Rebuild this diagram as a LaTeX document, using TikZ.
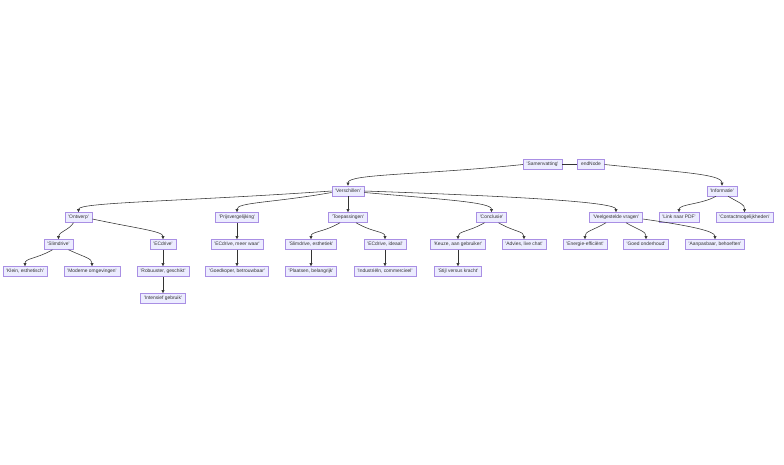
\documentclass[tikz,border=0pt]{standalone}
\usepackage{fontspec}
\setmainfont{Liberation Sans}
\usetikzlibrary{arrows.meta,calc}
\definecolor{nodefill}{HTML}{ECECFF}
\definecolor{nodeline}{HTML}{9370DB}
\definecolor{edgecol}{HTML}{333333}
\newcommand{\qq}[1]{\textquotesingle#1\textquotesingle}
\begin{document}
\begin{tikzpicture}[x=1pt,y=1pt,
  box/.style={draw=nodeline!75!nodefill, fill=nodefill, line width=0.5pt, inner xsep=3.4pt, inner ysep=2.6pt,
    text height=3.7pt, text depth=1.1pt, font=\fontsize{4.9}{5.5}\selectfont, text=edgecol},
  edge/.style={draw=edgecol, line width=0.55pt, -{Triangle[length=3.2pt,width=3pt]}},
  link/.style={draw=edgecol, line width=0.55pt}]
\useasboundingbox[fill=white] (0,0) rectangle (784,-464);
% row 1
\node[box] (sam) at (542.5,-164.5) {\qq{Samenvatting}};
\node[box] (endn) at (591,-164.5) {endNode};
% row 2
\node[box] (ver) at (348,-191) {\qq{Verschillen}};
\node[box] (inf) at (722,-191) {\qq{Informatie}};
% row 3
\node[box] (ont) at (78.5,-217.5) {\qq{Ontwerp}};
\node[box] (prij) at (237,-217.5) {\qq{Prijsvergelijking}};
\node[box] (toe) at (348,-217.5) {\qq{Toepassingen}};
\node[box] (con) at (491.5,-217.5) {\qq{Conclusie}};
\node[box] (vee) at (616,-217.5) {\qq{Veelgestelde vragen}};
\node[box] (lnk) at (679,-217.5) {\qq{Link naar PDF}};
\node[box] (cont) at (744.5,-217.5) {\qq{Contactmogelijkheden}};
% row 4
\node[box] (slim) at (58.5,-244.5) {\qq{Slimdrive}};
\node[box] (ecd) at (163,-244.5) {\qq{ECdrive}};
\node[box] (ecm) at (237,-244.5) {\qq{ECdrive, meer waar}};
\node[box] (sle) at (311,-244.5) {\qq{Slimdrive, esthetiek}};
\node[box] (eci) at (385,-244.5) {\qq{ECdrive, ideaal}};
\node[box] (keu) at (458,-244.5) {\qq{Keuze, aan gebruiker}};
\node[box] (adv) at (524,-244.5) {\qq{Advies, live chat}};
\node[box] (ene) at (585,-244.5) {\qq{Energie-efficiënt}};
\node[box] (goe) at (646,-244.5) {\qq{Goed onderhoud}};
\node[box] (aan) at (715,-244.5) {\qq{Aanpasbaar, behoeften}};
% row 5
\node[box] (kle) at (25,-271.5) {\qq{Klein, esthetisch}};
\node[box] (mod) at (92,-271.5) {\qq{Moderne omgevingen}};
\node[box] (rob) at (163,-271.5) {\qq{Robuuster, geschikt}};
\node[box] (goed) at (237,-271.5) {\qq{Goedkoper, betrouwbaar}};
\node[box] (pla) at (311,-271.5) {\qq{Plaatsen, belangrijk}};
\node[box] (ind) at (385,-271.5) {\qq{Industriëln, commercieel}};
\node[box] (sti) at (458,-271.5) {\qq{Stijl versus kracht}};
% row 6
\node[box] (int) at (163,-298.5) {\qq{Intensief gebruik}};
% edges
\draw[edge] (sam.west) .. controls +(186:100) and +(90:12) .. (ver.north);
\draw[link] (sam.east) -- (endn.west);
\draw[edge] (endn.east) .. controls +(-6:70) and +(90:12) .. (inf.north);
\draw[edge] (ver.west) .. controls +(184:150) and +(90:10) .. (ont.north);
\draw[edge] ([yshift=-1.5pt]ver.west) .. controls +(190:60) and +(90:10) .. (prij.north);
\draw[edge] (ver.south) -- (toe.north);
\draw[edge] ([yshift=-1.5pt]ver.east) .. controls +(-5:80) and +(90:10) .. (con.north);
\draw[edge] (ver.east) .. controls +(-2:160) and +(90:10) .. (vee.north);
\draw[edge] ([xshift=-6pt]inf.south) .. controls +(-150:16) and +(90:8) .. (lnk.north);
\draw[edge] ([xshift=6pt]inf.south) .. controls +(-30:16) and +(90:8) .. (cont.north);
\draw[edge] ([xshift=-5pt]ont.south) .. controls +(-120:8) and +(90:7) .. (slim.north);
\draw[edge] ([yshift=-1.5pt]ont.east) .. controls +(-12:45) and +(90:8) .. (ecd.north);
\draw[edge] ([xshift=-6pt]slim.south) .. controls +(-150:18) and +(90:8) .. (kle.north);
\draw[edge] ([xshift=10pt]slim.south) .. controls +(-25:18) and +(90:8) .. (mod.north);
\draw[edge] (ecd.south) -- (rob.north);
\draw[edge] (rob.south) -- (int.north);
\draw[edge] (prij.south) -- (ecm.north);
\draw[edge] (ecm.south) -- (goed.north);
\draw[edge] ([xshift=-8pt]toe.south) .. controls +(-150:20) and +(90:8) .. (sle.north);
\draw[edge] ([xshift=8pt]toe.south) .. controls +(-30:20) and +(90:8) .. (eci.north);
\draw[edge] (sle.south) -- (pla.north);
\draw[edge] (eci.south) -- (ind.north);
\draw[edge] ([xshift=-7pt]con.south) .. controls +(-150:18) and +(90:8) .. (keu.north);
\draw[edge] ([xshift=7pt]con.south) .. controls +(-30:18) and +(90:8) .. (adv.north);
\draw[edge] (keu.south) -- (sti.north);
\draw[edge] ([xshift=-10pt]vee.south) .. controls +(-150:16) and +(90:8) .. (ene.north);
\draw[edge] ([xshift=10pt]vee.south) .. controls +(-30:16) and +(90:8) .. (goe.north);
\draw[edge] ([yshift=-1.5pt]vee.east) .. controls +(-8:50) and +(90:8) .. (aan.north);
\end{tikzpicture}
\end{document}
